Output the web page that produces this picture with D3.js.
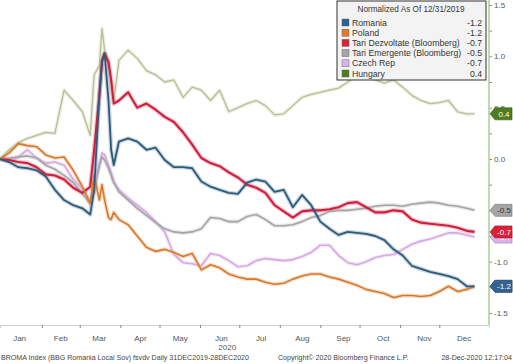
<!DOCTYPE html>
<html>
<head>
<meta charset="utf-8">
<script src="https://cdn.jsdelivr.net/npm/d3@7"></script>
<style>
  html, body { margin: 0; padding: 0; background: #fff; }
  svg { display: block; font-family: "Liberation Sans", Arial, sans-serif; }
</style>
</head>
<body>
<svg id="chart" width="513" height="364"></svg>
<script>
// sample dates (weekly, denser around the March spike)
const dates = [
  "2019-12-31", "2020-01-07", "2020-01-14", "2020-01-21", "2020-01-28",
  "2020-02-04", "2020-02-11", "2020-02-18", "2020-02-25", "2020-03-03",
  "2020-03-09", "2020-03-12", "2020-03-16", "2020-03-18", "2020-03-20",
  "2020-03-23", "2020-03-25", "2020-03-27", "2020-03-31", "2020-04-07",
  "2020-04-14", "2020-04-21", "2020-04-28", "2020-05-05", "2020-05-12",
  "2020-05-19", "2020-05-26", "2020-06-02", "2020-06-09", "2020-06-16",
  "2020-06-23", "2020-06-30", "2020-07-07", "2020-07-14", "2020-07-21",
  "2020-07-28", "2020-08-04", "2020-08-11", "2020-08-18", "2020-08-25",
  "2020-09-01", "2020-09-08", "2020-09-15", "2020-09-22", "2020-09-29",
  "2020-10-06", "2020-10-13", "2020-10-20", "2020-10-27", "2020-11-03",
  "2020-11-10", "2020-11-17", "2020-11-24", "2020-12-01", "2020-12-08",
  "2020-12-15", "2020-12-22", "2020-12-28"
];

const romania = [0, -0.03, -0.08, -0.09, -0.11, -0.17, -0.30, -0.40, -0.45, -0.48,
  -0.54, -0.30, 0.62, 0.94, 1.03, 0.57, 0.09, -0.06, 0.17, 0.20,
  0.17, 0.09, 0.11, -0.01, -0.08, -0.08, -0.09, -0.22, -0.27, -0.30,
  -0.33, -0.34, -0.23, -0.20, -0.22, -0.32, -0.30, -0.47, -0.35, -0.45,
  -0.61, -0.68, -0.74, -0.71, -0.72, -0.73, -0.75, -0.79, -0.88, -0.94,
  -1.04, -1.07, -1.10, -1.12, -1.14, -1.17, -1.24, -1.24];

const poland = [0, 0.06, 0.15, 0.13, 0.12, 0.04, 0.01, 0.02, -0.11, -0.27,
  -0.43, -0.16, -0.40, -0.25, -0.40, -0.57, -0.59, -0.52, -0.59, -0.64,
  -0.75, -0.86, -0.90, -0.88, -0.91, -0.95, -0.92, -1.08, -1.03, -1.06,
  -1.12, -1.15, -1.17, -1.17, -1.20, -1.22, -1.21, -1.17, -1.14, -1.12,
  -1.12, -1.15, -1.17, -1.20, -1.23, -1.27, -1.29, -1.31, -1.35, -1.33,
  -1.33, -1.34, -1.33, -1.29, -1.24, -1.29, -1.27, -1.24];

const dezvoltate = [0, -0.01, -0.03, -0.04, -0.08, -0.15, -0.16, -0.20, -0.28, -0.33,
  -0.27, 0.09, 0.62, 0.96, 1.03, 0.94, 0.77, 0.54, 0.57, 0.65,
  0.50, 0.54, 0.48, 0.41, 0.36, 0.26, 0.14, 0.01, -0.04, -0.07,
  -0.13, -0.18, -0.25, -0.28, -0.33, -0.45, -0.51, -0.57, -0.51, -0.50,
  -0.50, -0.49, -0.47, -0.43, -0.42, -0.47, -0.52, -0.52, -0.50, -0.51,
  -0.59, -0.62, -0.63, -0.64, -0.65, -0.67, -0.70, -0.71];

const emergente = [0, 0.01, 0.02, 0.03, 0.01, -0.06, -0.10, -0.16, -0.23, -0.34,
  -0.43, -0.32, -0.06, 0.02, -0.01, -0.09, -0.16, -0.23, -0.32, -0.40,
  -0.48, -0.55, -0.62, -0.68, -0.71, -0.72, -0.71, -0.68, -0.57, -0.58,
  -0.61, -0.61, -0.56, -0.54, -0.59, -0.65, -0.65, -0.64, -0.61, -0.57,
  -0.55, -0.51, -0.50, -0.50, -0.49, -0.48, -0.46, -0.45, -0.45, -0.46,
  -0.44, -0.43, -0.42, -0.43, -0.45, -0.46, -0.48, -0.50];

const czech = [0, -0.02, 0.02, 0.09, 0.01, -0.04, -0.03, -0.06, -0.20, -0.29,
  -0.45, -0.25, -0.06, 0.06, 0.04, -0.06, -0.13, -0.22, -0.30, -0.38,
  -0.45, -0.52, -0.61, -0.71, -0.93, -1.01, -1.02, -1.04, -0.92, -0.94,
  -0.99, -1.05, -1.04, -0.99, -0.97, -0.98, -0.99, -0.98, -0.95, -0.91,
  -0.84, -0.84, -0.94, -1.01, -1.03, -1.00, -0.96, -0.94, -0.93, -0.88,
  -0.83, -0.80, -0.78, -0.75, -0.72, -0.72, -0.74, -0.76];

const hungary = [0, 0.09, 0.16, 0.20, 0.23, 0.26, 0.25, 0.67, 0.57, 0.46,
  0.23, 0.82, 0.91, 1.27, 1.06, 0.96, 0.72, 0.57, 0.96, 1.06,
  0.98, 0.86, 0.82, 0.75, 0.77, 0.60, 0.70, 0.67, 0.57, 0.67,
  0.46, 0.50, 0.54, 0.57, 0.52, 0.43, 0.44, 0.52, 0.60, 0.63,
  0.65, 0.67, 0.69, 0.75, 0.82, 0.81, 0.77, 0.74, 0.77, 0.70,
  0.62, 0.57, 0.54, 0.55, 0.57, 0.46, 0.44, 0.44];

const seriesNames = ["Romania", "Poland", "Tari Dezvoltate (Bloomberg)",
  "Tari Emergente (Bloomberg)", "Czech Rep", "Hungary"];
const lastLabels = ["-1.2", "-1.2", "-0.7", "-0.5", "-0.7", "0.4"];
const monthLabels = ["Jan", "Feb", "Mar", "Apr", "May", "Jun",
  "Jul", "Aug", "Sep", "Oct", "Nov", "Dec"];
const yTicks = [-1.5, -1.0, -0.5, 0.0, 0.5, 1.0, 1.5];

const seriesValues = [romania, poland, dezvoltate, emergente, czech, hungary];
const lineColors = ["#2b5a7a", "#d6792a", "#cf1f3e", "#a4a4a4", "#d5a8e2", "#b8be92"];
const swatchColors = ["#2f6497", "#e07b2c", "#d92138", "#a5a5a5", "#d9b3ec", "#4e7d1e"];
const tagText = ["#fff", "#fff", "#fff", "#333", "#fff", "#fff"];
const lineWidths = [1.8, 1.6, 2.1, 1.6, 1.6, 1.3];

const parse = d3.timeParse("%Y-%m-%d");
const series = seriesNames.map((name, i) => ({
  name, i,
  values: dates.map((d, k) => ({ date: parse(d), v: seriesValues[i][k] }))
}));

const svg = d3.select("#chart");

const x = d3.scaleTime()
  .domain([parse("2019-12-31"), parse("2021-01-08")])
  .range([0, 489]);
const y = d3.scaleLinear().domain([-1.5, 1.5]).range([313, 5]);

// x axis: tick marks on month boundaries, labels mid-month
const months = d3.timeMonth.range(parse("2020-01-01"), parse("2021-01-01"));
svg.append("g")
  .attr("transform", "translate(0,325)")
  .call(d3.axisBottom(x).tickValues(months.slice(1)).tickSize(3).tickFormat(""))
  .call(g => g.select(".domain").attr("stroke", "#d0d0d0"))
  .call(g => g.selectAll(".tick line").attr("stroke", "#888"));

svg.append("g")
  .selectAll("text")
  .data(months)
  .enter()
  .append("text")
  .attr("x", (d, i) => x(d3.timeDay.offset(d, 14)) + i * 0.6)
  .attr("y", 341)
  .attr("text-anchor", "middle")
  .style("font-size", "8px")
  .style("fill", "#555")
  .text((d, i) => monthLabels[i]);

svg.append("text")
  .attr("x", x(parse("2020-07-01")) - 12)
  .attr("y", 350)
  .attr("text-anchor", "middle")
  .style("font-size", "8px")
  .style("fill", "#555")
  .text("2020");

// right axis
svg.append("g")
  .attr("transform", "translate(489,0)")
  .call(d3.axisRight(y).tickValues(d3.range(-1.5, 1.51, 0.25)).tickSize(3).tickFormat(""))
  .call(g => g.select(".domain").remove())
  .call(g => g.selectAll(".tick line").attr("stroke", "#8a8a8a"));

svg.append("line")
  .attr("x1", 489).attr("x2", 489)
  .attr("y1", 0).attr("y2", 325)
  .attr("stroke", "#a9cf93")
  .attr("stroke-width", 1.5);

svg.append("g")
  .selectAll("text")
  .data(yTicks)
  .enter()
  .append("text")
  .attr("x", 494)
  .attr("y", d => y(d) + 3)
  .style("font-size", "8px")
  .style("fill", "#555")
  .text(d => d.toFixed(1));

// lines
const line = d3.line()
  .x(d => x(d.date))
  .y(d => y(d.v));

const drawOrder = series.slice().reverse();

svg.append("g")
  .selectAll("path")
  .data(drawOrder)
  .enter()
  .append("path")
  .attr("d", d => line(d.values))
  .attr("fill", "none")
  .attr("stroke", d => lineColors[d.i])
  .attr("stroke-opacity", 0.25)
  .attr("stroke-width", d => lineWidths[d.i] + 2.5)
  .attr("stroke-linejoin", "round");

svg.append("g")
  .selectAll("path")
  .data(drawOrder)
  .enter()
  .append("path")
  .attr("d", d => line(d.values))
  .attr("fill", "none")
  .attr("stroke", d => lineColors[d.i])
  .attr("stroke-width", d => lineWidths[d.i])
  .attr("stroke-linejoin", "round");

// end-of-line tags
const tags = svg.append("g")
  .selectAll("g")
  .data(drawOrder)
  .enter()
  .append("g")
  .attr("transform", d => `translate(490,${y(d.values[d.values.length - 1].v)})`);

tags.append("path")
  .attr("d", "M0,0 L5,-6 L22,-6 L22,6 L5,6 Z")
  .attr("fill", d => swatchColors[d.i])
  .attr("stroke", d => d3.color(swatchColors[d.i]).darker(1))
  .attr("stroke-width", 0.6);

tags.append("text")
  .attr("x", 14)
  .attr("y", 3)
  .attr("text-anchor", "middle")
  .style("font-size", "8px")
  .style("fill", d => tagText[d.i])
  .text(d => lastLabels[d.i]);

// legend
const legend = svg.append("g").attr("transform", "translate(337,1)");

legend.append("rect")
  .attr("width", 149)
  .attr("height", 79)
  .attr("fill", "#f3f3f3")
  .attr("stroke", "#333")
  .attr("stroke-width", 1);

legend.append("text")
  .attr("x", 74)
  .attr("y", 11)
  .attr("text-anchor", "middle")
  .style("font-size", "8.2px")
  .style("fill", "#333")
  .text("Normalized As Of 12/31/2019");

const rows = legend.selectAll(".row")
  .data(series)
  .enter()
  .append("g")
  .attr("class", "row")
  .attr("transform", (d, i) => `translate(0,${21.5 + i * 10.2})`);

rows.append("rect")
  .attr("x", 5)
  .attr("y", -3.5)
  .attr("width", 7)
  .attr("height", 7)
  .attr("fill", d => swatchColors[d.i])
  .attr("stroke", "#555")
  .attr("stroke-width", 0.4);

rows.append("text")
  .attr("x", 15)
  .attr("y", 3)
  .style("font-size", "8.7px")
  .style("fill", "#333")
  .text(d => d.name);

rows.append("text")
  .attr("x", 145)
  .attr("y", 3)
  .attr("text-anchor", "end")
  .style("font-size", "8.7px")
  .style("fill", "#333")
  .text(d => lastLabels[d.i]);

// footer
const footer = [
  { x: 1, anchor: "start", t: "BROMA Index (BBG Romania Local Sov) fsvdv  Daily 31DEC2019-28DEC2020" },
  { x: 278, anchor: "start", t: "Copyright\u00a9 2020 Bloomberg Finance L.P." },
  { x: 512, anchor: "end", t: "28-Dec-2020 12:17:04" }
];

svg.append("g")
  .selectAll("text")
  .data(footer)
  .enter()
  .append("text")
  .attr("x", d => d.x)
  .attr("y", 360)
  .attr("text-anchor", d => d.anchor)
  .style("font-size", "7.1px")
  .style("fill", "#444")
  .text(d => d.t);
</script>
</body>
</html>
